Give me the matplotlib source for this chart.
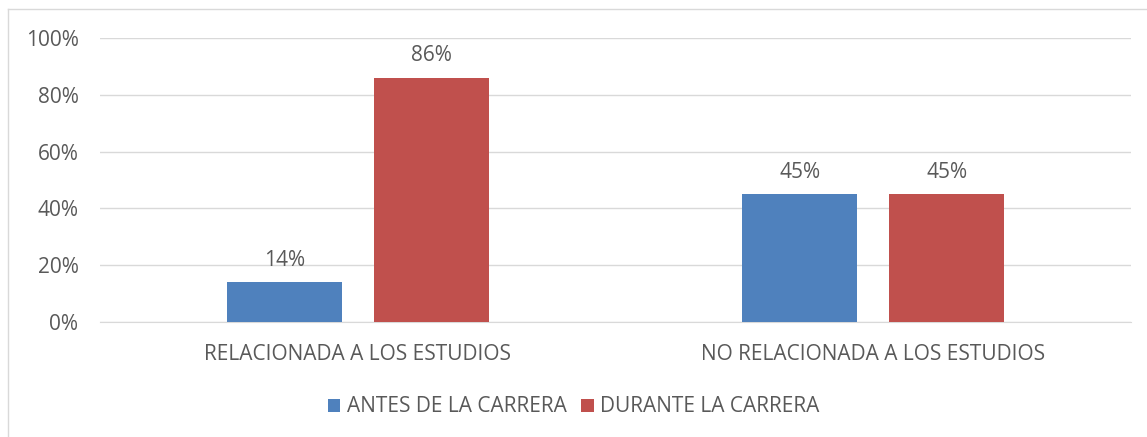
import matplotlib.pyplot as plt
from matplotlib.lines import Line2D
import numpy as np

plt.rcParams["font.family"] = ["Open Sans", "DejaVu Sans"]

categories = ["RELACIONADA A LOS ESTUDIOS", "NO RELACIONADA A LOS ESTUDIOS"]
antes = [14, 45]
durante = [86, 45]
series_names = ["ANTES DE LA CARRERA", "DURANTE LA CARRERA"]

blue = "#4F81BD"
red = "#C0504D"
text_col = "#595959"
fs = 15

W, H = 1147, 437
fig = plt.figure(figsize=(W / 100, H / 100), dpi=100)
ax = fig.add_axes([100 / W, 1 - 322 / H, 1031 / W, 284 / H])

x = np.arange(len(categories))
w = 0.223
off = 0.1427
b1 = ax.bar(x - off, antes, w, color=blue, label=series_names[0], zorder=3)
b2 = ax.bar(x + off, durante, w, color=red, label=series_names[1], zorder=3)

for bars, vals in [(b1, antes), (b2, durante)]:
    for rect, v in zip(bars, vals):
        ax.text(rect.get_x() + rect.get_width() / 2, v + 7.8, f"{v}%",
                ha="center", va="center", fontsize=fs, color=text_col)

ax.set_xlim(-0.5, 1.5)
ax.set_ylim(0, 100)
ax.set_yticks(range(0, 101, 20))
ax.set_yticklabels([f"{t}%" for t in range(0, 101, 20)])
ax.set_xticks(x)
ax.set_xticklabels(categories)
ax.tick_params(axis="both", length=0, labelsize=fs, colors=text_col)
ax.tick_params(axis="y", pad=15.5)
ax.tick_params(axis="x", pad=16)
ax.grid(axis="y", color="#D9D9D9", linewidth=1, zorder=0)
for s in ["top", "right", "left"]:
    ax.spines[s].set_visible(False)
ax.spines["bottom"].set_color("#D9D9D9")

fig.legend(loc="center", bbox_to_anchor=(0.5, 1 - 407 / H), ncol=2, frameon=False,
           fontsize=fs, handlelength=0.6, handleheight=0.6, handletextpad=0.3,
           columnspacing=0.7, labelcolor=text_col)

# light frame around the chart (left and top edges visible)
fig.add_artist(Line2D([8 / W, 8 / W], [0, 1 - 9 / H], transform=fig.transFigure,
                      color="#D9D9D9", linewidth=1))
fig.add_artist(Line2D([8 / W, 1], [1 - 9 / H, 1 - 9 / H], transform=fig.transFigure,
                      color="#D9D9D9", linewidth=1))

fig.savefig("out.png", dpi=100)
